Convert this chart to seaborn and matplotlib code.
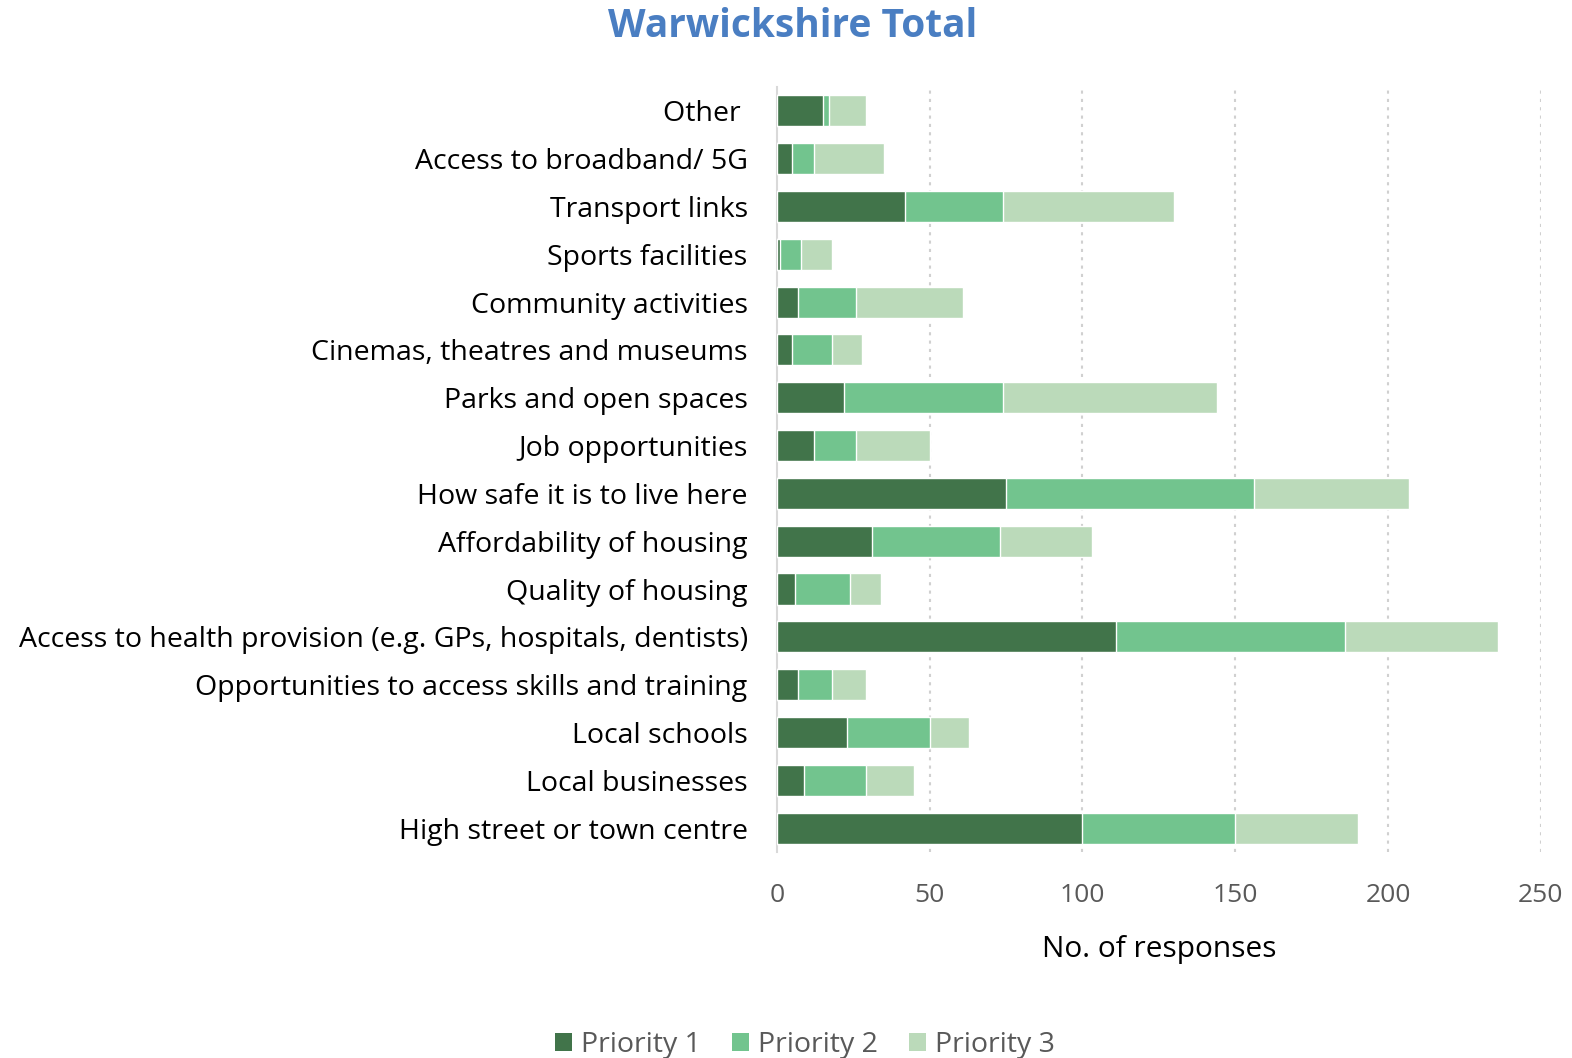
import matplotlib
matplotlib.use("Agg")
import matplotlib.pyplot as plt
import seaborn as sns
import numpy as np
import pandas as pd
from matplotlib.patches import Patch

categories = [
    "Other ",
    "Access to broadband/ 5G",
    "Transport links",
    "Sports facilities",
    "Community activities",
    "Cinemas, theatres and museums",
    "Parks and open spaces",
    "Job opportunities",
    "How safe it is to live here",
    "Affordability of housing",
    "Quality of housing",
    "Access to health provision (e.g. GPs, hospitals, dentists)",
    "Opportunities to access skills and training",
    "Local schools",
    "Local businesses",
    "High street or town centre",
]
priority1 = [15, 5, 42, 1, 7, 5, 22, 12, 75, 31, 6, 111, 7, 23, 9, 100]
priority2 = [2, 7, 32, 7, 19, 13, 52, 14, 81, 42, 18, 75, 11, 27, 20, 50]
priority3 = [12, 23, 56, 10, 35, 10, 70, 24, 51, 30, 10, 50, 11, 13, 16, 40]
series_names = ["Priority 1", "Priority 2", "Priority 3"]
colors = ["#41744A", "#72C48E", "#BBDABA"]
x_ticks = [0, 50, 100, 150, 200, 250]

sns.set_theme(style="white")
plt.rcParams["font.family"] = ["Open Sans", "DejaVu Sans"]

df = pd.DataFrame({"cat": categories, "p1": priority1, "p2": priority2, "p3": priority3})
df["c2"] = df["p1"] + df["p2"]
df["c3"] = df["c2"] + df["p3"]

fig = plt.figure(figsize=(15.72, 10.58), dpi=100)
ax = fig.add_axes([0.4942, 0.1947, 0.486, 0.7231])

for col, c in zip(["c3", "c2", "p1"], colors[::-1]):
    sns.barplot(data=df, x=col, y="cat", color=c, orient="h", width=0.65,
                saturation=1, ax=ax, zorder=3)

ax.set_xlim(0, 250)
ax.set_ylim(15.5, -0.5)
ax.set_xticks(x_ticks)
ax.set_xticklabels([str(t) for t in x_ticks], fontsize=19, color="#595959")
ax.tick_params(axis="x", length=0, pad=22)
ax.tick_params(axis="y", length=0, pad=21, labelsize=20.5, labelcolor="#000000")
ax.set_ylabel("")
ax.set_xlabel("No. of responses", fontsize=21.5, color="#000000", labelpad=20)

for t in x_ticks[1:]:
    ax.axvline(t, color="#D0D0D0", linestyle=(0, (1.5, 2.5)), linewidth=1.5, zorder=1)

for s in ["top", "right", "bottom"]:
    ax.spines[s].set_visible(False)
ax.spines["left"].set_color("#D9D9D9")
ax.spines["left"].set_linewidth(1.5)
ax.grid(False)

fig.text(0.504, 0.975, "Warwickshire Total", ha="center", va="center",
         fontsize=28, fontweight="bold", color="#4A7EC2")

handles = [Patch(facecolor=c, edgecolor="none", label=n) for c, n in zip(colors, series_names)]
fig.legend(handles=handles, loc="center", bbox_to_anchor=(0.512, 0.012), ncol=3,
           frameon=False, fontsize=20.5, labelcolor="#595959", handlelength=0.6,
           handleheight=0.6, handletextpad=0.3, columnspacing=1.1)

fig.savefig("out.png", dpi=100)
